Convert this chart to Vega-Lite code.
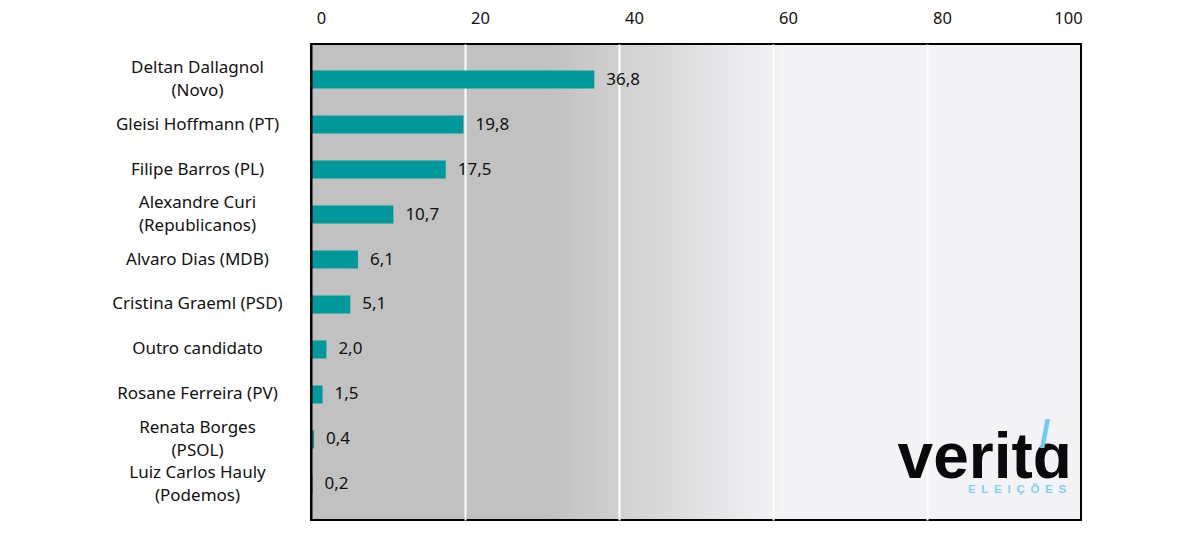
{
  "$schema": "https://vega.github.io/schema/vega-lite/v6.json",
  "width": 770,
  "height": 476,
  "autosize": {"type": "none"},
  "padding": {"left": 311, "top": 44, "right": 107, "bottom": 22},
  "background": "white",
  "view": {
    "fill": {
      "gradient": "linear",
      "x1": 0, "y1": 0, "x2": 1, "y2": 0,
      "stops": [
        {"offset": 0, "color": "#c1c1c1"},
        {"offset": 0.31, "color": "#c1c1c1"},
        {"offset": 0.61, "color": "#f3f3f5"},
        {"offset": 1, "color": "#f3f3f5"}
      ]
    },
    "stroke": "black",
    "strokeWidth": 2
  },
  "data": {
    "values": [
      {"candidato": "Deltan Dallagnol|(Novo)", "pct": 36.8},
      {"candidato": "Gleisi Hoffmann (PT)", "pct": 19.8},
      {"candidato": "Filipe Barros (PL)", "pct": 17.5},
      {"candidato": "Alexandre Curi|(Republicanos)", "pct": 10.7},
      {"candidato": "Alvaro Dias (MDB)", "pct": 6.1},
      {"candidato": "Cristina Graeml (PSD)", "pct": 5.1},
      {"candidato": "Outro candidato", "pct": 2.0},
      {"candidato": "Rosane Ferreira (PV)", "pct": 1.5},
      {"candidato": "Renata Borges|(PSOL)", "pct": 0.4},
      {"candidato": "Luiz Carlos Hauly|(Podemos)", "pct": 0.2}
    ]
  },
  "encoding": {
    "y": {
      "field": "candidato",
      "type": "nominal",
      "sort": null,
      "scale": {"paddingInner": 0.6, "paddingOuter": 0.59},
      "axis": {
        "title": null,
        "labelExpr": "split(datum.label, '|')",
        "labelAlign": "center",
        "labelBaseline": "middle",
        "labelOffset": {
          "condition": {"test": "indexof(datum.value, '|') >= 0", "value": -11.5},
          "value": 0
        },
        "labelPadding": 114,
        "labelLineHeight": 23,
        "labelFont": "Noto Sans",
        "labelFontSize": 17,
        "labelColor": "#111111",
        "labelLimit": 300,
        "ticks": false,
        "tickSize": 0,
        "domain": true,
        "domainColor": "black",
        "domainWidth": 2,
        "zindex": 1
      }
    }
  },
  "layer": [
    {
      "mark": {"type": "bar", "color": "#00999b"},
      "encoding": {
        "x": {
          "field": "pct",
          "type": "quantitative",
          "scale": {"domain": [0, 100], "nice": false},
          "axis": {
            "orient": "top",
            "title": null,
            "values": [0, 20, 40, 60, 80, 100],
            "grid": true,
            "gridColor": {
              "condition": {"test": "datum.value == 0 || datum.value == 100", "value": "transparent"},
              "value": "white"
            },
            "gridWidth": 2,
            "domain": false,
            "ticks": false,
            "labelFlush": false,
            "labelPadding": 18,
            "labelFont": "Noto Sans",
            "labelFontSize": 16.5,
            "labelColor": "#111111",
            "labelOffset": {
              "condition": [
                {"test": "datum.value == 0", "value": 10},
                {"test": "datum.value == 100", "value": -13}
              ],
              "value": 15
            }
          }
        }
      }
    },
    {
      "mark": {
        "type": "text",
        "align": "left",
        "baseline": "middle",
        "dx": 12,
        "font": "Noto Sans",
        "fontSize": 17,
        "color": "#111111"
      },
      "encoding": {
        "x": {"field": "pct", "type": "quantitative"},
        "text": {"field": "pct", "type": "quantitative", "format": ".1f"}
      }
    },
    {
      "data": {"values": [{"marca": "veritɑ", "acento": "/", "sub": "E\u2002L\u2002E\u2002I\u2002Ç\u2002Õ\u2002E\u2002S"}]},
      "layer": [
        {
          "mark": {
            "type": "text",
            "align": "center",
            "baseline": "alphabetic",
            "dy": -6,
            "font": "Liberation Sans",
            "fontWeight": "bold",
            "fontSize": 64,
            "color": "#0a0a0a"
          },
          "encoding": {
            "x": {"datum": 87.5, "type": "quantitative"},
            "y": {"datum": "Luiz Carlos Hauly|(Podemos)"},
            "text": {"field": "marca"}
          }
        },
        {
          "mark": {
            "type": "text",
            "align": "center",
            "baseline": "alphabetic",
            "dy": 8,
            "font": "Liberation Sans",
            "fontWeight": "bold",
            "fontSize": 38,
            "color": "#6ccbf7"
          },
          "encoding": {
            "x": {"datum": 95.3, "type": "quantitative"},
            "y": {"datum": "Renata Borges|(PSOL)"},
            "text": {"field": "acento"}
          }
        },
        {
          "mark": {
            "type": "text",
            "align": "center",
            "baseline": "middle",
            "dy": 6,
            "font": "Liberation Sans",
            "fontWeight": "bold",
            "fontSize": 11.5,
            "color": "#7fd0f7"
          },
          "encoding": {
            "x": {"datum": 91.7, "type": "quantitative"},
            "y": {"datum": "Luiz Carlos Hauly|(Podemos)"},
            "text": {"field": "sub"}
          }
        }
      ]
    }
  ],
  "config": {
    "locale": {
      "number": {"decimal": ",", "thousands": ".", "grouping": [3], "currency": ["R$", ""]}
    }
  }
}
